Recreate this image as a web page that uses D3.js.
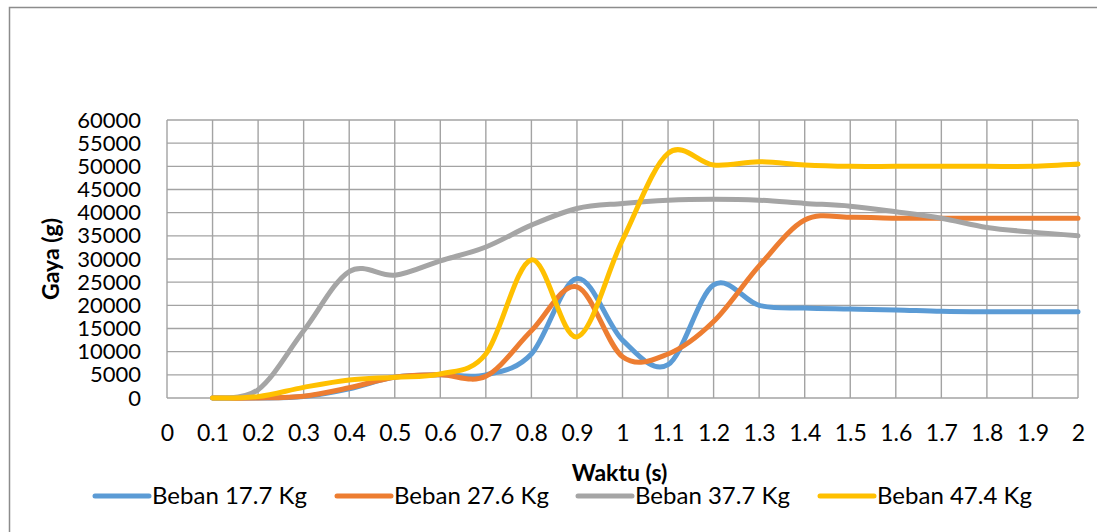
<!DOCTYPE html>
<html>
<head>
<meta charset="utf-8">
<script src="https://cdn.jsdelivr.net/npm/d3@7"></script>
<style>
	body { margin: 0; background: #fff; }
	text { font-family: Lato, "Open Sans", sans-serif; fill: #000; }
</style>
</head>
<body>
<script>
	// waktu (s), first point at 0.1
	var waktu = [0.1, 0.2, 0.3, 0.4, 0.5, 0.6, 0.7, 0.8, 0.9, 1.0,
		1.1, 1.2, 1.3, 1.4, 1.5, 1.6, 1.7, 1.8, 1.9, 2.0];
	var xTicks = [0, 0.1, 0.2, 0.3, 0.4, 0.5, 0.6, 0.7, 0.8, 0.9, 1,
		1.1, 1.2, 1.3, 1.4, 1.5, 1.6, 1.7, 1.8, 1.9, 2];
	var yTicks = [0, 5000, 10000, 15000, 20000, 25000, 30000, 35000, 40000, 45000, 50000, 55000, 60000];

	var seriesNames = ["Beban 17.7 Kg", "Beban 27.6 Kg", "Beban 37.7 Kg", "Beban 47.4 Kg"];
	var colors = ["#5B9BD5", "#ED7D31", "#A5A5A5", "#FFC000"];

	var beban177 = [0, 0, 300, 2000, 4500, 5000, 5000, 9500, 25800, 12500,
		7200, 24400, 20000, 19400, 19200, 19000, 18700, 18600, 18600, 18600];
	var beban276 = [0, 0, 400, 2200, 4500, 5000, 4700, 14500, 24000, 8900,
		9500, 16500, 28500, 38400, 39000, 38800, 38800, 38800, 38800, 38800];
	var beban377 = [0, 1800, 14500, 27300, 26500, 29600, 32600, 37300, 40900, 42000,
		42700, 42900, 42700, 42000, 41400, 40200, 38800, 36800, 35800, 35000];
	var beban474 = [0, 300, 2300, 3900, 4500, 5200, 9500, 29800, 13200, 34100,
		52800, 50300, 51000, 50300, 50000, 50000, 50000, 50000, 50000, 50500];

	var allSeries = [beban177, beban276, beban377, beban474];

(function() {
	var width = 1097;
	var height = 532;
	var fontSize = 23;

	var svg = d3.select("body").append("svg")
		.attr("width", width)
		.attr("height", height);

	// outer chart frame
	svg.append("rect")
		.attr("x", 9.5).attr("y", 7.5)
		.attr("width", width + 20).attr("height", height + 20)
		.attr("fill", "none").attr("stroke", "#8c8c8c").attr("stroke-width", 1.5);

	var pLeft = 167, pRight = 1078, pTop = 120, pBottom = 398;

	var x = d3.scaleLinear().domain([0, 2]).range([pLeft, pRight]);
	var y = d3.scaleLinear().domain([0, 60000]).range([pBottom, pTop]);

	// grid
	var grid = svg.append("g");
	grid.selectAll("line.h").data(yTicks).enter().append("line")
		.attr("x1", pLeft).attr("x2", pRight)
		.attr("y1", function(d) { return y(d); })
		.attr("y2", function(d) { return y(d); })
		.attr("stroke", "#a3a3a3").attr("stroke-width", 1.4);
	grid.selectAll("line.v").data(xTicks).enter().append("line")
		.attr("y1", pTop).attr("y2", pBottom)
		.attr("x1", function(d) { return x(d); })
		.attr("x2", function(d) { return x(d); })
		.attr("stroke", "#a3a3a3").attr("stroke-width", 1.4);

	// y axis labels
	var yAxis = d3.axisLeft(y).tickValues(yTicks).tickSize(0).tickPadding(0)
		.tickFormat(function(d) { return String(d); });
	var yg = svg.append("g").attr("transform", "translate(141,0)").call(yAxis);
	yg.select(".domain").remove();
	yg.selectAll("text").attr("font-size", 22).attr("font-family", "Lato").attr("fill", "#000");

	// x axis labels
	var xAxis = d3.axisBottom(x).tickValues(xTicks).tickSize(0).tickPadding(0)
		.tickFormat(function(d) { return String(d); });
	var xg = svg.append("g").attr("transform", "translate(0,425)").call(xAxis);
	xg.select(".domain").remove();
	xg.selectAll("text").attr("font-size", fontSize).attr("font-family", "Lato").attr("fill", "#000");

	// axis titles
	svg.append("text")
		.attr("transform", "translate(59," + ((pTop + pBottom) / 2) + ") rotate(-90)")
		.attr("text-anchor", "middle")
		.attr("font-size", fontSize).attr("font-weight", "bold")
		.text("Gaya (g)");
	svg.append("text")
		.attr("x", (pLeft + pRight) / 2 - 3).attr("y", 481)
		.attr("text-anchor", "middle")
		.attr("font-size", fontSize).attr("font-weight", "bold")
		.text("Waktu (s)");

	// lines
	var line = d3.line()
		.x(function(d, i) { return x(waktu[i]); })
		.y(function(d) { return y(d); })
		.curve(d3.curveCatmullRom.alpha(0));

	svg.selectAll("path.series").data(allSeries).enter().append("path")
		.attr("class", "series")
		.attr("d", line)
		.attr("fill", "none")
		.attr("stroke", function(d, i) { return colors[i]; })
		.attr("stroke-width", 5)
		.attr("stroke-linejoin", "round")
		.attr("stroke-linecap", "round");

	// legend
	var legendX = [93, 335, 576, 818];
	var legend = svg.selectAll("g.legend").data(seriesNames).enter().append("g")
		.attr("transform", function(d, i) { return "translate(" + legendX[i] + ",496)"; });
	legend.append("line")
		.attr("x1", 2).attr("x2", 56)
		.attr("stroke", function(d, i) { return colors[i]; })
		.attr("stroke-width", 5).attr("stroke-linecap", "round");
	legend.append("text")
		.attr("x", 59).attr("y", 8)
		.attr("font-size", 24)
		.text(function(d) { return d; });
})();
</script>
</body>
</html>
